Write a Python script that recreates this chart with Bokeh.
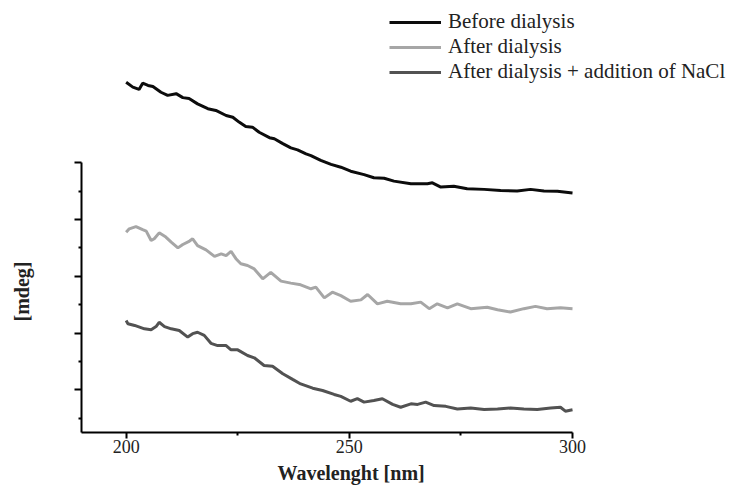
from bokeh.plotting import figure
from bokeh.models import (FixedTicker, Legend, LegendItem, Range1d, Title,
                          CustomJSTickFormatter)
from bokeh.embed import file_html
from bokeh.resources import INLINE

# ---- data ----
wl_before = [200.0, 201.5, 202.9, 203.7, 204.9, 206.0, 207.8, 209.3, 211.2, 212.7,
             214.1, 216.0, 218.3, 220.1, 222.4, 223.9, 225.3, 226.8, 228.3, 229.8,
             232.1, 233.2, 235.1, 236.9, 238.4, 240.3, 241.4, 243.6, 245.9, 248.1,
             250.3, 253.3, 255.5, 257.8, 260.0, 263.8, 267.5, 268.6, 270.5, 273.4,
             276.4, 280.2, 283.9, 287.6, 290.6, 293.6, 296.6, 300.0]
mdeg_before = [12.33, 12.16, 12.08, 12.30, 12.22, 12.18, 11.98, 11.87, 11.93, 11.79,
               11.76, 11.57, 11.40, 11.34, 11.16, 11.10, 10.93, 10.77, 10.75, 10.57,
               10.38, 10.34, 10.17, 10.02, 9.95, 9.81, 9.75, 9.58, 9.44, 9.34,
               9.20, 9.08, 8.97, 8.95, 8.85, 8.76, 8.76, 8.79, 8.64, 8.67,
               8.58, 8.56, 8.52, 8.50, 8.56, 8.50, 8.49, 8.43]

wl_after = [200.0, 200.7, 202.2, 203.7, 204.5, 205.6, 206.3, 207.4, 208.9, 210.1,
            211.6, 212.7, 214.2, 214.9, 216.0, 217.9, 219.8, 221.3, 222.4, 223.5,
            224.6, 225.7, 227.2, 228.7, 230.6, 232.4, 234.7, 236.9, 239.1, 241.4,
            242.5, 244.4, 246.2, 248.1, 250.3, 252.6, 254.1, 256.3, 258.5, 261.5,
            263.8, 266.0, 267.9, 269.7, 272.0, 274.2, 277.2, 280.9, 283.2, 286.1,
            289.1, 291.7, 294.3, 297.3, 300.0]
mdeg_after = [7.05, 7.17, 7.25, 7.14, 7.09, 6.76, 6.82, 7.03, 6.88, 6.70,
              6.50, 6.62, 6.74, 6.82, 6.58, 6.43, 6.20, 6.29, 6.23, 6.38,
              6.12, 5.94, 5.88, 5.76, 5.41, 5.64, 5.33, 5.26, 5.20, 5.06,
              5.12, 4.74, 4.94, 4.82, 4.62, 4.67, 4.86, 4.53, 4.62, 4.53,
              4.53, 4.59, 4.36, 4.53, 4.39, 4.53, 4.36, 4.41, 4.32, 4.24,
              4.36, 4.44, 4.36, 4.39, 4.36]

wl_nacl = [200.0, 200.4, 201.9, 204.1, 205.6, 206.7, 207.4, 208.6, 210.1, 211.9,
           213.8, 214.9, 216.0, 217.5, 219.0, 220.5, 222.4, 223.5, 225.0, 227.2,
           228.7, 230.9, 232.8, 235.1, 237.3, 239.1, 241.8, 244.0, 246.6, 248.1,
           250.3, 251.8, 253.3, 255.5, 257.4, 259.7, 261.5, 263.8, 265.3, 267.1,
           269.0, 271.6, 274.2, 277.2, 280.2, 283.2, 286.1, 289.1, 292.1, 295.1,
           297.3, 298.4, 300.0]
mdeg_nacl = [3.94, 3.83, 3.77, 3.65, 3.62, 3.73, 3.88, 3.73, 3.65, 3.59,
             3.36, 3.48, 3.53, 3.42, 3.14, 3.06, 3.06, 2.91, 2.91, 2.71,
             2.63, 2.36, 2.33, 2.07, 1.87, 1.71, 1.56, 1.48, 1.34, 1.27,
             1.10, 1.19, 1.07, 1.13, 1.19, 0.99, 0.89, 1.01, 0.99, 1.07,
             0.95, 0.92, 0.83, 0.86, 0.81, 0.83, 0.86, 0.83, 0.81, 0.86,
             0.89, 0.75, 0.80]

series_names = ["Before dialysis", "After dialysis", "After dialysis + addition of NaCl"]
x_ticks = [200, 250, 300]
x_minor = [225, 275]
y_ticks = [1.5, 3.5, 5.5, 7.5, 9.5]
y_minor = [0.5, 2.5, 4.5, 6.5, 8.5]
x_title = "Wavelenght [nm]"
y_title = "[mdeg]"

SERIF = "Liberation Serif"

p = figure(width=742, height=487, output_backend="svg", toolbar_location=None,
           x_range=Range1d(190, 336.29), y_range=Range1d(0, 15.21),
           min_border_left=81, min_border_right=8, min_border_top=0,
           min_border_bottom=55)
p.outline_line_color = None
p.grid.visible = False
p.background_fill_color = "white"
p.border_fill_color = "white"

colors = ["#0c0c0c", "#a6a6a6", "#525252"]
r1 = p.line(wl_before, mdeg_before, line_color=colors[0], line_width=3)
r2 = p.line(wl_after, mdeg_after, line_color=colors[1], line_width=3)
r3 = p.line(wl_nacl, mdeg_nacl, line_color=colors[2], line_width=3)

# x axis
xa = p.xaxis[0]
xa.bounds = (190, 300)
xa.ticker = FixedTicker(ticks=x_ticks, minor_ticks=x_minor)
xa.axis_line_width = 2
xa.axis_line_color = "black"
xa.major_tick_line_width = 2
xa.minor_tick_line_width = 2
xa.major_tick_in = 0
xa.major_tick_out = 6
xa.minor_tick_in = 0
xa.minor_tick_out = 3
xa.major_label_standoff = 1
xa.major_label_text_font = SERIF
xa.major_label_text_font_size = "18px"
xa.major_label_text_color = "#222222"

# y axis (blank tick labels)
ya = p.yaxis[0]
ya.bounds = (0, 9.5)
ya.ticker = FixedTicker(ticks=y_ticks, minor_ticks=y_minor)
ya.formatter = CustomJSTickFormatter(code="return ' '")
ya.axis_line_width = 2
ya.axis_line_color = "black"
ya.major_tick_line_width = 2
ya.minor_tick_line_width = 2
ya.major_tick_in = 0
ya.major_tick_out = 7
ya.minor_tick_in = 0
ya.minor_tick_out = 3
ya.major_label_standoff = 29

# axis titles placed like the reference
p.add_layout(Title(text=x_title, align="left", offset=196, standoff=8,
                   text_font=SERIF, text_font_size="20px",
                   text_font_style="bold", text_color="#222222"), "below")
p.add_layout(Title(text=y_title, align="left", offset=111, standoff=14,
                   text_font=SERIF, text_font_size="20px",
                   text_font_style="bold", text_color="#222222"), "left")

legend = Legend(items=[LegendItem(label=series_names[0], renderers=[r1]),
                       LegendItem(label=series_names[1], renderers=[r2]),
                       LegendItem(label=series_names[2], renderers=[r3])],
                location=(308, 348), padding=0, margin=0, spacing=0,
                glyph_width=52, glyph_height=22, label_height=22,
                label_standoff=7, label_text_font=SERIF,
                label_text_font_size="21px", label_text_color="#222222",
                border_line_color=None, background_fill_alpha=0)
p.add_layout(legend)

open("out.html", "w").write(file_html(p, INLINE))
